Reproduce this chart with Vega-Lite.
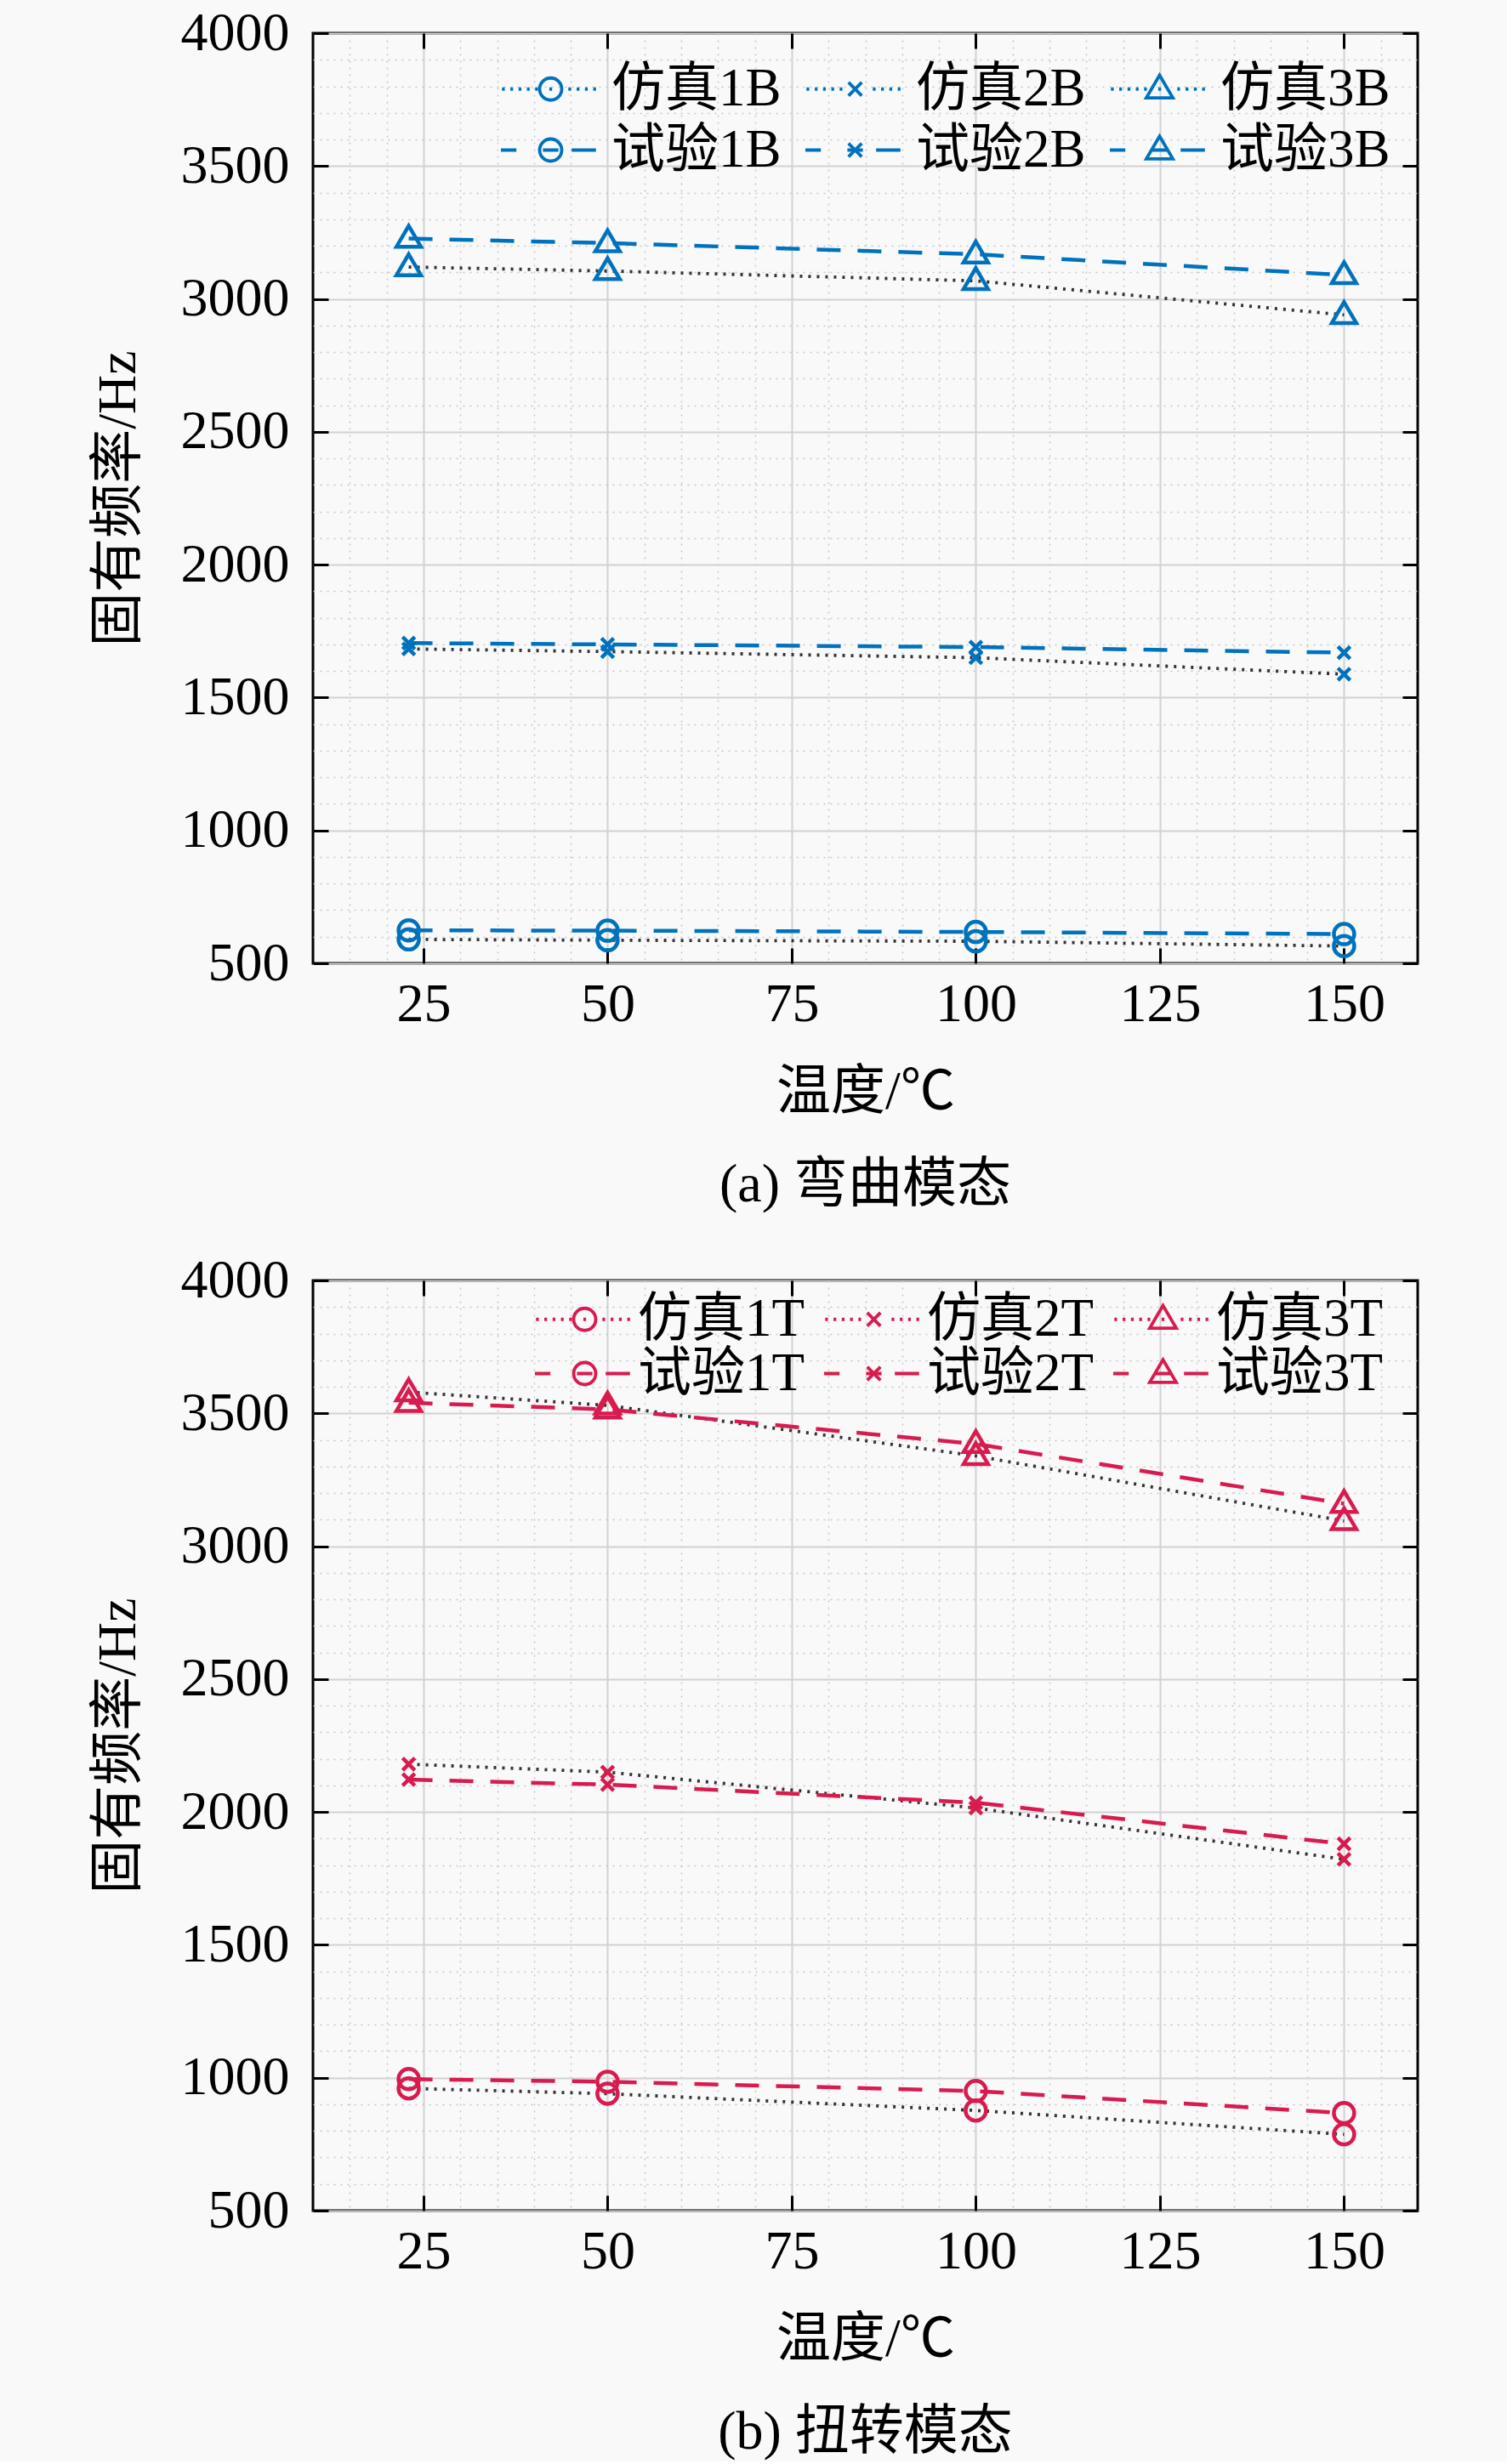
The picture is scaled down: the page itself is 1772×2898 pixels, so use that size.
{
  "$schema": "https://vega.github.io/schema/vega-lite/v6.json",
  "background": "#f9f9f9",
  "padding": {"left": 105, "top": 5, "right": 103, "bottom": 0},
  "spacing": 44,
  "data": {"values": [
    {"p":"a","s":"仿真1B","k":"仿真","m":"1","t":23,"f":590},
    {"p":"a","s":"仿真1B","k":"仿真","m":"1","t":50,"f":587},
    {"p":"a","s":"仿真1B","k":"仿真","m":"1","t":100,"f":583},
    {"p":"a","s":"仿真1B","k":"仿真","m":"1","t":150,"f":565},
    {"p":"a","s":"试验1B","k":"试验","m":"1","t":23,"f":624},
    {"p":"a","s":"试验1B","k":"试验","m":"1","t":50,"f":623},
    {"p":"a","s":"试验1B","k":"试验","m":"1","t":100,"f":618},
    {"p":"a","s":"试验1B","k":"试验","m":"1","t":150,"f":610},
    {"p":"a","s":"仿真2B","k":"仿真","m":"2","t":23,"f":1683},
    {"p":"a","s":"仿真2B","k":"仿真","m":"2","t":50,"f":1673},
    {"p":"a","s":"仿真2B","k":"仿真","m":"2","t":100,"f":1650},
    {"p":"a","s":"仿真2B","k":"仿真","m":"2","t":150,"f":1588},
    {"p":"a","s":"试验2B","k":"试验","m":"2","t":23,"f":1705},
    {"p":"a","s":"试验2B","k":"试验","m":"2","t":50,"f":1700},
    {"p":"a","s":"试验2B","k":"试验","m":"2","t":100,"f":1690},
    {"p":"a","s":"试验2B","k":"试验","m":"2","t":150,"f":1669},
    {"p":"a","s":"仿真3B","k":"仿真","m":"3","t":23,"f":3120},
    {"p":"a","s":"仿真3B","k":"仿真","m":"3","t":50,"f":3105},
    {"p":"a","s":"仿真3B","k":"仿真","m":"3","t":100,"f":3068},
    {"p":"a","s":"仿真3B","k":"仿真","m":"3","t":150,"f":2940},
    {"p":"a","s":"试验3B","k":"试验","m":"3","t":23,"f":3227},
    {"p":"a","s":"试验3B","k":"试验","m":"3","t":50,"f":3210},
    {"p":"a","s":"试验3B","k":"试验","m":"3","t":100,"f":3168},
    {"p":"a","s":"试验3B","k":"试验","m":"3","t":150,"f":3090},
    {"p":"b","s":"仿真1T","k":"仿真","m":"1","t":23,"f":960},
    {"p":"b","s":"仿真1T","k":"仿真","m":"1","t":50,"f":940},
    {"p":"b","s":"仿真1T","k":"仿真","m":"1","t":100,"f":877},
    {"p":"b","s":"仿真1T","k":"仿真","m":"1","t":150,"f":787},
    {"p":"b","s":"试验1T","k":"试验","m":"1","t":23,"f":995},
    {"p":"b","s":"试验1T","k":"试验","m":"1","t":50,"f":985},
    {"p":"b","s":"试验1T","k":"试验","m":"1","t":100,"f":950},
    {"p":"b","s":"试验1T","k":"试验","m":"1","t":150,"f":867},
    {"p":"b","s":"仿真2T","k":"仿真","m":"2","t":23,"f":2180},
    {"p":"b","s":"仿真2T","k":"仿真","m":"2","t":50,"f":2150},
    {"p":"b","s":"仿真2T","k":"仿真","m":"2","t":100,"f":2015},
    {"p":"b","s":"仿真2T","k":"仿真","m":"2","t":150,"f":1822},
    {"p":"b","s":"试验2T","k":"试验","m":"2","t":23,"f":2122},
    {"p":"b","s":"试验2T","k":"试验","m":"2","t":50,"f":2103},
    {"p":"b","s":"试验2T","k":"试验","m":"2","t":100,"f":2035},
    {"p":"b","s":"试验2T","k":"试验","m":"2","t":150,"f":1880},
    {"p":"b","s":"仿真3T","k":"仿真","m":"3","t":23,"f":3580},
    {"p":"b","s":"仿真3T","k":"仿真","m":"3","t":50,"f":3530},
    {"p":"b","s":"仿真3T","k":"仿真","m":"3","t":100,"f":3340},
    {"p":"b","s":"仿真3T","k":"仿真","m":"3","t":150,"f":3095},
    {"p":"b","s":"试验3T","k":"试验","m":"3","t":23,"f":3540},
    {"p":"b","s":"试验3T","k":"试验","m":"3","t":50,"f":3515},
    {"p":"b","s":"试验3T","k":"试验","m":"3","t":100,"f":3385},
    {"p":"b","s":"试验3T","k":"试验","m":"3","t":150,"f":3160}
  ]},
  "vconcat": [
    {
      "width": 1299, "height": 1094,
      "title": {"text": "(a) 弯曲模态", "orient": "bottom", "offset": 46},
      "transform": [{"filter": "datum.p === 'a'"}],
      "layer": [
        {"mark": {"type": "point", "opacity": 0},
         "encoding": {
           "x": {"field": "t", "type": "quantitative", "scale": {"domain": [10, 160], "nice": false, "zero": false},
                 "axis": {"orient": "bottom", "values": [15,20,30,35,40,45,55,60,65,70,80,85,90,95,105,110,115,120,130,135,140,145,155], "grid": true, "gridDash": [2, 6], "gridColor": "#c8c8c8", "gridWidth": 1.5, "labels": false, "ticks": false, "domain": false, "title": null}},
           "y": {"field": "f", "type": "quantitative", "scale": {"domain": [500, 4000], "nice": false, "zero": false},
                 "axis": {"orient": "left", "values": [600,700,800,900,1100,1200,1300,1400,1600,1700,1800,1900,2100,2200,2300,2400,2600,2700,2800,2900,3100,3200,3300,3400,3600,3700,3800,3900], "grid": true, "gridDash": [2, 6], "gridColor": "#c8c8c8", "gridWidth": 1.5, "labels": false, "ticks": false, "domain": false, "title": null}}
         }},
        {"mark": {"type": "point", "opacity": 0},
         "encoding": {
           "x": {"field": "t", "type": "quantitative", "scale": {"domain": [10, 160], "nice": false, "zero": false},
                 "axis": {"orient": "top", "values": [25,50,75,100,125,150], "grid": false, "labels": false, "ticks": true, "tickSize": -18, "domain": false, "title": null}},
           "y": {"field": "f", "type": "quantitative", "scale": {"domain": [500, 4000], "nice": false, "zero": false},
                 "axis": {"orient": "right", "values": [500,1000,1500,2000,2500,3000,3500,4000], "grid": false, "labels": false, "ticks": true, "tickSize": -18, "domain": false, "title": null}}
         }},
        {"transform": [{"filter": "datum.k === '仿真'"}],
         "mark": {"type": "line", "color": "#333333", "strokeWidth": 3.8, "strokeDash": [3, 7]},
         "encoding": {
           "x": {"field": "t", "type": "quantitative", "scale": {"domain": [10, 160], "nice": false, "zero": false},
                 "axis": {"orient": "bottom", "values": [25,50,75,100,125,150], "format": "d", "grid": true, "ticks": true, "tickSize": -18, "labelPadding": 34, "title": "温度/℃", "titlePadding": 39}},
           "y": {"field": "f", "type": "quantitative", "scale": {"domain": [500, 4000], "nice": false, "zero": false},
                 "axis": {"orient": "left", "values": [500,1000,1500,2000,2500,3000,3500,4000], "format": "d", "grid": true, "ticks": true, "tickSize": -18, "labelPadding": 46, "title": "固有频率/Hz", "titlePadding": 41}},
           "detail": {"field": "s"}
         }},
        {"transform": [{"filter": "datum.k === '试验'"}],
         "mark": {"type": "line", "color": "#0072BD", "strokeWidth": 4.5, "strokeDash": [28, 20]},
         "encoding": {
           "x": {"field": "t", "type": "quantitative", "scale": {"domain": [10, 160], "nice": false, "zero": false}, "axis": null},
           "y": {"field": "f", "type": "quantitative", "scale": {"domain": [500, 4000], "nice": false, "zero": false}, "axis": null},
           "detail": {"field": "s"}
         }},
        {"mark": {"type": "point", "filled": false, "color": "#0072BD", "strokeWidth": 4.5, "size": 576, "opacity": 1},
         "encoding": {
           "x": {"field": "t", "type": "quantitative", "scale": {"domain": [10, 160], "nice": false, "zero": false}, "axis": null},
           "y": {"field": "f", "type": "quantitative", "scale": {"domain": [500, 4000], "nice": false, "zero": false}, "axis": null},
           "shape": {"field": "m", "type": "nominal", "legend": null,
                     "scale": {"domain": ["1","2","3"], "range": ["M-1,0A1,1,0,1,0,1,0A1,1,0,1,0,-1,0Z", "M-0.6,-0.6L0.6,0.6M-0.6,0.6L0.6,-0.6", "M0,-1.25L1.2,0.8L-1.2,0.8Z"]}}
         }},
        {"mark": {"type": "point", "filled": false, "color": "#0072BD", "opacity": 0},
         "encoding": {
           "x": {"field": "t", "type": "quantitative", "scale": {"domain": [10, 160], "nice": false, "zero": false}, "axis": null},
           "y": {"field": "f", "type": "quantitative", "scale": {"domain": [500, 4000], "nice": false, "zero": false}, "axis": null},
           "shape": {"field": "s", "type": "nominal",
                     "scale": {"domain": ["仿真1B","仿真2B","仿真3B","试验1B","试验2B","试验3B"],
                               "range": [
                                 "M-4.5,0M4.5,0M-4.4,0h0.25M-3.65,0h0.25M-2.9,0h0.25M-2.15,0h0.25M-1.4,0h0.25M-0.12,0h0.25M1.6,0h0.25M2.35,0h0.25M3.1,0h0.25M3.85,0h0.25",
                                 "M-4.5,0M4.5,0M-4.4,0h0.25M-3.65,0h0.25M-2.9,0h0.25M-2.15,0h0.25M-1.4,0h0.25M-0.12,0h0.25M1.6,0h0.25M2.35,0h0.25M3.1,0h0.25M3.85,0h0.25",
                                 "M-4.5,0M4.5,0M-4.4,0h0.25M-3.65,0h0.25M-2.9,0h0.25M-2.15,0h0.25M-1.4,0h0.25M-0.12,0h0.25M1.6,0h0.25M2.35,0h0.25M3.1,0h0.25M3.85,0h0.25",
                                 "M-4.5,0H-3.1M-0.7,0H0.7M1.9,0H4.1M4.5,0",
                                 "M-4.5,0H-3.1M-0.7,0H0.7M1.9,0H4.1M4.5,0",
                                 "M-4.5,0H-3.1M-0.7,0H0.7M1.9,0H4.1M4.5,0"]},
                     "legend": {"title": null, "orient": "none", "direction": "horizontal", "legendX": 248, "legendY": 34, "columns": 3, "symbolSize": 676, "symbolStrokeWidth": 3.8, "symbolFillColor": "transparent", "symbolStrokeColor": "#0072BD", "symbolOpacity": 1, "labelOffset": 40, "columnPadding": 20, "rowPadding": 8, "padding": 0,
                                "encode": {"symbols": {"update": {"stroke": {"signal": "indexof(datum.value, '仿真') === 0 ? '#333333' : '#0072BD'"}, "opacity": {"value": 1}}}}}}
         }},
        {"mark": {"type": "point", "filled": false, "color": "#0072BD", "opacity": 0},
         "encoding": {
           "x": {"field": "t", "type": "quantitative", "scale": {"domain": [10, 160], "nice": false, "zero": false}, "axis": null},
           "y": {"field": "f", "type": "quantitative", "scale": {"domain": [500, 4000], "nice": false, "zero": false}, "axis": null},
           "shape": {"field": "s", "type": "nominal",
                     "scale": {"domain": ["仿真1B","仿真2B","仿真3B","试验1B","试验2B","试验3B"],
                               "range": [
                                 "M-4.5,0M4.5,0M-1,0A1,1,0,1,0,1,0A1,1,0,1,0,-1,0Z",
                                 "M-4.5,0M4.5,0M-0.6,-0.6L0.6,0.6M-0.6,0.6L0.6,-0.6",
                                 "M-4.5,0M4.5,0M0,-1.25L1.2,0.8L-1.2,0.8Z",
                                 "M-4.5,0M4.5,0M-1,0A1,1,0,1,0,1,0A1,1,0,1,0,-1,0Z",
                                 "M-4.5,0M4.5,0M-0.6,-0.6L0.6,0.6M-0.6,0.6L0.6,-0.6",
                                 "M-4.5,0M4.5,0M0,-1.25L1.2,0.8L-1.2,0.8Z"]},
                     "legend": {"title": null, "orient": "none", "direction": "horizontal", "legendX": 248, "legendY": 34, "columns": 3, "symbolSize": 676, "symbolStrokeWidth": 3.8, "symbolFillColor": "transparent", "symbolStrokeColor": "#0072BD", "symbolOpacity": 1, "labelOffset": 40, "columnPadding": 20, "rowPadding": 8, "padding": 0, "labelOpacity": 0,
                                "encode": {"symbols": {"update": {"stroke": {"value": "#0072BD"}, "opacity": {"value": 1}}}}}}
         }}
      ],
      "resolve": {"axis": {"x": "independent", "y": "independent"}, "scale": {"shape": "independent"}}
    },
    {
      "width": 1299, "height": 1094,
      "title": {"text": "(b) 扭转模态", "orient": "bottom", "offset": 46},
      "transform": [{"filter": "datum.p === 'b'"}],
      "layer": [
        {"mark": {"type": "point", "opacity": 0},
         "encoding": {
           "x": {"field": "t", "type": "quantitative", "scale": {"domain": [10, 160], "nice": false, "zero": false},
                 "axis": {"orient": "bottom", "values": [15,20,30,35,40,45,55,60,65,70,80,85,90,95,105,110,115,120,130,135,140,145,155], "grid": true, "gridDash": [2, 6], "gridColor": "#c8c8c8", "gridWidth": 1.5, "labels": false, "ticks": false, "domain": false, "title": null}},
           "y": {"field": "f", "type": "quantitative", "scale": {"domain": [500, 4000], "nice": false, "zero": false},
                 "axis": {"orient": "left", "values": [600,700,800,900,1100,1200,1300,1400,1600,1700,1800,1900,2100,2200,2300,2400,2600,2700,2800,2900,3100,3200,3300,3400,3600,3700,3800,3900], "grid": true, "gridDash": [2, 6], "gridColor": "#c8c8c8", "gridWidth": 1.5, "labels": false, "ticks": false, "domain": false, "title": null}}
         }},
        {"mark": {"type": "point", "opacity": 0},
         "encoding": {
           "x": {"field": "t", "type": "quantitative", "scale": {"domain": [10, 160], "nice": false, "zero": false},
                 "axis": {"orient": "top", "values": [25,50,75,100,125,150], "grid": false, "labels": false, "ticks": true, "tickSize": -18, "domain": false, "title": null}},
           "y": {"field": "f", "type": "quantitative", "scale": {"domain": [500, 4000], "nice": false, "zero": false},
                 "axis": {"orient": "right", "values": [500,1000,1500,2000,2500,3000,3500,4000], "grid": false, "labels": false, "ticks": true, "tickSize": -18, "domain": false, "title": null}}
         }},
        {"transform": [{"filter": "datum.k === '仿真'"}],
         "mark": {"type": "line", "color": "#333333", "strokeWidth": 3.8, "strokeDash": [3, 7]},
         "encoding": {
           "x": {"field": "t", "type": "quantitative", "scale": {"domain": [10, 160], "nice": false, "zero": false},
                 "axis": {"orient": "bottom", "values": [25,50,75,100,125,150], "format": "d", "grid": true, "ticks": true, "tickSize": -18, "labelPadding": 34, "title": "温度/℃", "titlePadding": 39}},
           "y": {"field": "f", "type": "quantitative", "scale": {"domain": [500, 4000], "nice": false, "zero": false},
                 "axis": {"orient": "left", "values": [500,1000,1500,2000,2500,3000,3500,4000], "format": "d", "grid": true, "ticks": true, "tickSize": -18, "labelPadding": 46, "title": "固有频率/Hz", "titlePadding": 41}},
           "detail": {"field": "s"}
         }},
        {"transform": [{"filter": "datum.k === '试验'"}],
         "mark": {"type": "line", "color": "#D81B4F", "strokeWidth": 4.5, "strokeDash": [28, 20]},
         "encoding": {
           "x": {"field": "t", "type": "quantitative", "scale": {"domain": [10, 160], "nice": false, "zero": false}, "axis": null},
           "y": {"field": "f", "type": "quantitative", "scale": {"domain": [500, 4000], "nice": false, "zero": false}, "axis": null},
           "detail": {"field": "s"}
         }},
        {"mark": {"type": "point", "filled": false, "color": "#D81B4F", "strokeWidth": 4.5, "size": 576, "opacity": 1},
         "encoding": {
           "x": {"field": "t", "type": "quantitative", "scale": {"domain": [10, 160], "nice": false, "zero": false}, "axis": null},
           "y": {"field": "f", "type": "quantitative", "scale": {"domain": [500, 4000], "nice": false, "zero": false}, "axis": null},
           "shape": {"field": "m", "type": "nominal", "legend": null,
                     "scale": {"domain": ["1","2","3"], "range": ["M-1,0A1,1,0,1,0,1,0A1,1,0,1,0,-1,0Z", "M-0.6,-0.6L0.6,0.6M-0.6,0.6L0.6,-0.6", "M0,-1.25L1.2,0.8L-1.2,0.8Z"]}}
         }},
        {"mark": {"type": "point", "filled": false, "color": "#D81B4F", "opacity": 0},
         "encoding": {
           "x": {"field": "t", "type": "quantitative", "scale": {"domain": [10, 160], "nice": false, "zero": false}, "axis": null},
           "y": {"field": "f", "type": "quantitative", "scale": {"domain": [500, 4000], "nice": false, "zero": false}, "axis": null},
           "shape": {"field": "s", "type": "nominal",
                     "scale": {"domain": ["仿真1T","仿真2T","仿真3T","试验1T","试验2T","试验3T"],
                               "range": [
                                 "M-4.5,0M4.5,0M-4.4,0h0.25M-3.65,0h0.25M-2.9,0h0.25M-2.15,0h0.25M-1.4,0h0.25M-0.12,0h0.25M1.6,0h0.25M2.35,0h0.25M3.1,0h0.25M3.85,0h0.25",
                                 "M-4.5,0M4.5,0M-4.4,0h0.25M-3.65,0h0.25M-2.9,0h0.25M-2.15,0h0.25M-1.4,0h0.25M-0.12,0h0.25M1.6,0h0.25M2.35,0h0.25M3.1,0h0.25M3.85,0h0.25",
                                 "M-4.5,0M4.5,0M-4.4,0h0.25M-3.65,0h0.25M-2.9,0h0.25M-2.15,0h0.25M-1.4,0h0.25M-0.12,0h0.25M1.6,0h0.25M2.35,0h0.25M3.1,0h0.25M3.85,0h0.25",
                                 "M-4.5,0H-3.1M-0.7,0H0.7M1.9,0H4.1M4.5,0",
                                 "M-4.5,0H-3.1M-0.7,0H0.7M1.9,0H4.1M4.5,0",
                                 "M-4.5,0H-3.1M-0.7,0H0.7M1.9,0H4.1M4.5,0"]},
                     "legend": {"title": null, "orient": "none", "direction": "horizontal", "legendX": 288, "legendY": 14, "columns": 3, "symbolSize": 676, "symbolStrokeWidth": 3.8, "symbolFillColor": "transparent", "symbolStrokeColor": "#D81B4F", "symbolOpacity": 1, "labelOffset": 31, "columnPadding": 15, "rowPadding": 0, "padding": 0,
                                "encode": {"symbols": {"update": {"stroke": {"signal": "indexof(datum.value, '仿真') === 0 ? '#333333' : '#D81B4F'"}, "opacity": {"value": 1}}}}}}
         }},
        {"mark": {"type": "point", "filled": false, "color": "#D81B4F", "opacity": 0},
         "encoding": {
           "x": {"field": "t", "type": "quantitative", "scale": {"domain": [10, 160], "nice": false, "zero": false}, "axis": null},
           "y": {"field": "f", "type": "quantitative", "scale": {"domain": [500, 4000], "nice": false, "zero": false}, "axis": null},
           "shape": {"field": "s", "type": "nominal",
                     "scale": {"domain": ["仿真1T","仿真2T","仿真3T","试验1T","试验2T","试验3T"],
                               "range": [
                                 "M-4.5,0M4.5,0M-1,0A1,1,0,1,0,1,0A1,1,0,1,0,-1,0Z",
                                 "M-4.5,0M4.5,0M-0.6,-0.6L0.6,0.6M-0.6,0.6L0.6,-0.6",
                                 "M-4.5,0M4.5,0M0,-1.25L1.2,0.8L-1.2,0.8Z",
                                 "M-4.5,0M4.5,0M-1,0A1,1,0,1,0,1,0A1,1,0,1,0,-1,0Z",
                                 "M-4.5,0M4.5,0M-0.6,-0.6L0.6,0.6M-0.6,0.6L0.6,-0.6",
                                 "M-4.5,0M4.5,0M0,-1.25L1.2,0.8L-1.2,0.8Z"]},
                     "legend": {"title": null, "orient": "none", "direction": "horizontal", "legendX": 288, "legendY": 14, "columns": 3, "symbolSize": 676, "symbolStrokeWidth": 3.8, "symbolFillColor": "transparent", "symbolStrokeColor": "#D81B4F", "symbolOpacity": 1, "labelOffset": 31, "columnPadding": 15, "rowPadding": 0, "padding": 0, "labelOpacity": 0,
                                "encode": {"symbols": {"update": {"stroke": {"value": "#D81B4F"}, "opacity": {"value": 1}}}}}}
         }}
      ],
      "resolve": {"axis": {"x": "independent", "y": "independent"}, "scale": {"shape": "independent"}}
    }
  ],
  "config": {
    "font": "Liberation Serif, Noto Sans CJK SC",
    "view": {"stroke": "#000000", "strokeWidth": 3},
    "title": {"font": "Liberation Serif, Noto Sans CJK SC", "fontSize": 64, "fontWeight": "normal", "color": "#000000"},
    "axis": {"labelFont": "Liberation Serif, Noto Sans CJK SC", "labelFontSize": 64, "labelColor": "#000000", "titleFont": "Liberation Serif, Noto Sans CJK SC", "titleFontSize": 64, "titleFontWeight": "normal", "titleColor": "#000000", "tickColor": "#000000", "tickWidth": 3, "gridColor": "#d2d2d2", "gridWidth": 2, "domain": false, "labelLimit": 400},
    "legend": {"labelFont": "Liberation Serif, Noto Sans CJK SC", "labelFontSize": 63, "labelColor": "#000000", "labelLimit": 500}
  }
}
